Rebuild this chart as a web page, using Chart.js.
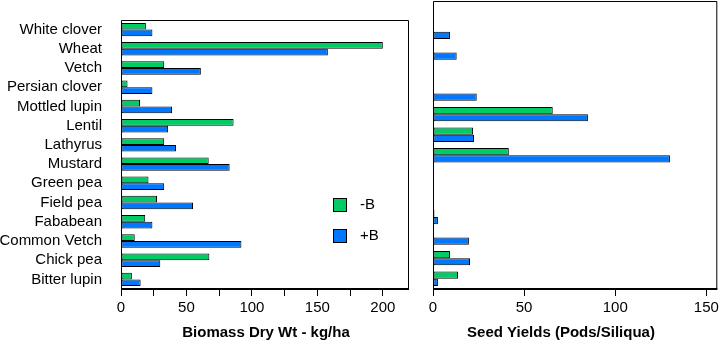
<!DOCTYPE html>
<html>
<head>
<meta charset="utf-8">
<script src="https://cdn.jsdelivr.net/npm/chart.js@4/dist/chart.umd.min.js"></script>
<style>
  body { margin: 0; background: #fff; }
  #wrap { position: relative; width: 722px; height: 349px; }
  canvas { position: absolute; top: 0; }
</style>
</head>
<body>
<div id="wrap">
  <canvas id="biomass" width="420" height="349" style="left:0"></canvas>
  <canvas id="seeds" width="302" height="349" style="left:420px"></canvas>
</div>
<script>
const crops = ['White clover', 'Wheat', 'Vetch', 'Persian clover', 'Mottled lupin', 'Lentil', 'Lathyrus',
    'Mustard', 'Green pea', 'Field pea', 'Fababean', 'Common Vetch', 'Chick pea', 'Bitter lupin'];
const seriesNames = ['-B', '+B'];
const biomassMinusB = [19, 200, 33, 5, 14.5, 86, 33, 67, 21, 27.5, 18.5, 10.5, 67.5, 8.3];
const biomassPlusB = [24, 158, 61, 24, 39, 36, 42, 83, 33, 55, 24, 92, 30, 15];
const seedMinusB = [null, null, null, null, null, 65.7, 22, 41.6, null, null, 0.8, null, 9.3, 13.7];
const seedPlusB = [null, 9.3, 13, null, 24, 85, 22.5, 130, null, null, 2.7, 19.7, 20.3, 2.7];

const GREEN = '#00cc66';
const BLUE = '#0077ff';
const FONT = "'Liberation Sans', Arial, sans-serif";

// box round the plot area, thicker along the bottom axis
const framePlugin = {
    id: 'frame',
    afterDraw(chart) {
        const { ctx, chartArea: a } = chart;
        ctx.save();
        ctx.strokeStyle = '#000';
        ctx.lineWidth = 1;
        ctx.beginPath();
        ctx.moveTo(a.left + 0.5, a.bottom);
        ctx.lineTo(a.left + 0.5, a.top + 0.5);
        ctx.lineTo(a.right - 0.5, a.top + 0.5);
        ctx.lineTo(a.right - 0.5, a.bottom);
        ctx.stroke();
        ctx.lineWidth = 2;
        ctx.beginPath();
        ctx.moveTo(a.left, a.bottom);
        ctx.lineTo(a.right, a.bottom);
        ctx.stroke();
        ctx.restore();
    }
};

const titlePlugin = {
    id: 'xTitle',
    afterDraw(chart, args, opts) {
        const ctx = chart.ctx;
        ctx.save();
        ctx.font = 'bold 15px ' + FONT;
        ctx.fillStyle = '#000';
        ctx.textAlign = 'center';
        ctx.textBaseline = 'middle';
        ctx.fillText(opts.text, opts.x, opts.y);
        ctx.restore();
    }
};

const keyPlugin = {
    id: 'key',
    afterDraw(chart, args, opts) {
        if (!opts.show) return;
        const ctx = chart.ctx;
        const colors = [GREEN, BLUE];
        ctx.save();
        ctx.font = '15px ' + FONT;
        ctx.textBaseline = 'middle';
        seriesNames.forEach((name, i) => {
            const y = opts.y + i * 31;
            ctx.fillStyle = colors[i];
            ctx.fillRect(opts.x, y, 14, 14);
            ctx.strokeStyle = '#000';
            ctx.lineWidth = 1;
            ctx.strokeRect(opts.x + 0.5, y + 0.5, 13, 13);
            ctx.fillStyle = '#000';
            ctx.fillText(name, opts.x + 27, y + 7);
        });
        ctx.restore();
    }
};

function makeConfig(minus, plus, xMax, step, yWidth, padRight, showLabels, title, key) {
    return {
        type: 'bar',
        data: {
            labels: crops,
            datasets: [
                { label: seriesNames[0], data: minus, backgroundColor: GREEN },
                { label: seriesNames[1], data: plus, backgroundColor: BLUE }
            ]
        },
        options: {
            indexAxis: 'y',
            responsive: false,
            animation: false,
            devicePixelRatio: 1,
            layout: { padding: { top: 1, right: padRight, left: 0, bottom: 0 } },
            datasets: {
                bar: {
                    categoryPercentage: 0.7,
                    barPercentage: 1,
                    borderColor: '#000',
                    borderWidth: 1,
                    borderSkipped: false
                }
            },
            plugins: {
                legend: { display: false },
                tooltip: { enabled: false },
                xTitle: title,
                key: key
            },
            scales: {
                y: {
                    type: 'category',
                    grid: { display: false },
                    border: { display: false },
                    ticks: {
                        display: showLabels,
                        autoSkip: false,
                        color: '#000',
                        padding: 11,
                        font: { family: FONT, size: 15 }
                    },
                    afterFit: s => { s.width = yWidth; }
                },
                x: {
                    min: 0,
                    max: xMax,
                    grid: { drawOnChartArea: false, drawTicks: true, tickLength: 7, color: '#000', lineWidth: 1 },
                    border: { display: false },
                    ticks: {
                        color: '#000',
                        padding: 3,
                        maxRotation: 0,
                        autoSkip: false,
                        font: { family: FONT, size: 15 },
                        callback: v => (v % 50 === 0 ? v : '')
                    },
                    // every step from 0 up to the axis max, no extra tick at the max itself
                    afterBuildTicks: s => {
                        const ticks = [];
                        for (let v = 0; v <= xMax; v += step) ticks.push({ value: v });
                        s.ticks = ticks;
                    },
                    afterFit: s => { s.height = 60; }
                }
            }
        },
        plugins: [framePlugin, titlePlugin, keyPlugin]
    };
}

new Chart(document.getElementById('biomass'),
    makeConfig(biomassMinusB, biomassPlusB, 220, 25, 121, 11, true,
        { text: 'Biomass Dry Wt - kg/ha', x: 266, y: 333 },
        { show: true, x: 333, y: 198 }));

new Chart(document.getElementById('seeds'),
    makeConfig(seedMinusB, seedPlusB, 156, 50, 13, 3, false,
        { text: 'Seed Yields (Pods/Siliqua)', x: 141, y: 333 },
        { show: false }));
</script>
</body>
</html>
